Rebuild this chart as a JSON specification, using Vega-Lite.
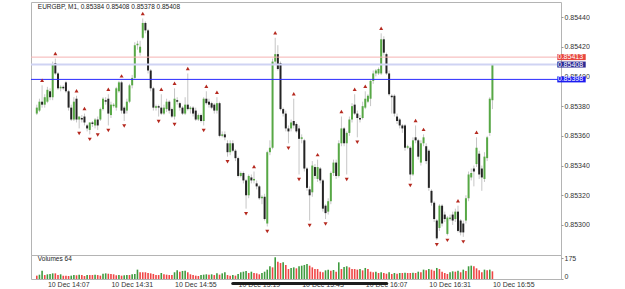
{
"$schema":"https://vega.github.io/schema/vega-lite/v6.json",
"padding":{"left":29,"top":1,"right":0,"bottom":0},
"spacing":0,
"bounds":"flush",
"config":{"font":"Liberation Sans","view":{"stroke":"#b4b4b4","strokeWidth":1},
"axis":{"labelFont":"Liberation Sans","labelFontSize":7,"labelColor":"#333","tickColor":"#999","domain":false,"grid":false,"title":null,"labelOverlap":false}},
"datasets":{
"levels":[{"name":"ask","p":0.85413},{"name":"bid","p":0.85408},{"name":"line","p":0.85398}],
"candles":[
{"t":"2024-12-10T14:03:00Z","o":0.85375,"h":0.85381,"l":0.85374,"c":0.85379,"v":28,"vd":"dn","f":""},
{"t":"2024-12-10T14:04:00Z","o":0.85377,"h":0.85385,"l":0.85376,"c":0.85383,"v":36,"vd":"up","f":""},
{"t":"2024-12-10T14:05:00Z","o":0.85383,"h":0.85394,"l":0.85379,"c":0.85381,"v":69,"vd":"up","f":"u"},
{"t":"2024-12-10T14:06:00Z","o":0.85381,"h":0.85388,"l":0.85379,"c":0.85386,"v":33,"vd":"dn","f":""},
{"t":"2024-12-10T14:07:00Z","o":0.85383,"h":0.85393,"l":0.85382,"c":0.85391,"v":39,"vd":"up","f":""},
{"t":"2024-12-10T14:08:00Z","o":0.85390,"h":0.85392,"l":0.85384,"c":0.85386,"v":42,"vd":"up","f":""},
{"t":"2024-12-10T14:09:00Z","o":0.85386,"h":0.85410,"l":0.85384,"c":0.85408,"v":47,"vd":"up","f":""},
{"t":"2024-12-10T14:10:00Z","o":0.85409,"h":0.85412,"l":0.85401,"c":0.85402,"v":47,"vd":"dn","f":"u"},
{"t":"2024-12-10T14:11:00Z","o":0.85402,"h":0.85403,"l":0.85391,"c":0.85392,"v":33,"vd":"dn","f":""},
{"t":"2024-12-10T14:12:00Z","o":0.85392,"h":0.85394,"l":0.85390,"c":0.85393,"v":39,"vd":"up","f":""},
{"t":"2024-12-10T14:13:00Z","o":0.85393,"h":0.85394,"l":0.85391,"c":0.85392,"v":28,"vd":"dn","f":""},
{"t":"2024-12-10T14:14:00Z","o":0.85396,"h":0.85397,"l":0.85389,"c":0.85390,"v":28,"vd":"dn","f":""},
{"t":"2024-12-10T14:15:00Z","o":0.85390,"h":0.85391,"l":0.85377,"c":0.85379,"v":25,"vd":"dn","f":""},
{"t":"2024-12-10T14:16:00Z","o":0.85379,"h":0.85381,"l":0.85370,"c":0.85371,"v":28,"vd":"up","f":""},
{"t":"2024-12-10T14:17:00Z","o":0.85371,"h":0.85386,"l":0.85370,"c":0.85383,"v":33,"vd":"up","f":""},
{"t":"2024-12-10T14:18:00Z","o":0.85385,"h":0.85387,"l":0.85369,"c":0.85371,"v":31,"vd":"dn","f":"u"},
{"t":"2024-12-10T14:19:00Z","o":0.85371,"h":0.85373,"l":0.85365,"c":0.85373,"v":36,"vd":"up","f":"d"},
{"t":"2024-12-10T14:20:00Z","o":0.85372,"h":0.85374,"l":0.85369,"c":0.85371,"v":33,"vd":"dn","f":""},
{"t":"2024-12-10T14:21:00Z","o":0.85373,"h":0.85375,"l":0.85367,"c":0.85369,"v":25,"vd":"dn","f":"u"},
{"t":"2024-12-10T14:22:00Z","o":0.85367,"h":0.85368,"l":0.85363,"c":0.85365,"v":33,"vd":"up","f":""},
{"t":"2024-12-10T14:23:00Z","o":0.85364,"h":0.85369,"l":0.85361,"c":0.85369,"v":33,"vd":"dn","f":"d"},
{"t":"2024-12-10T14:24:00Z","o":0.85369,"h":0.85370,"l":0.85366,"c":0.85368,"v":33,"vd":"dn","f":""},
{"t":"2024-12-10T14:25:00Z","o":0.85367,"h":0.85372,"l":0.85365,"c":0.85371,"v":36,"vd":"up","f":""},
{"t":"2024-12-10T14:26:00Z","o":0.85371,"h":0.85373,"l":0.85364,"c":0.85367,"v":33,"vd":"dn","f":"d"},
{"t":"2024-12-10T14:27:00Z","o":0.85371,"h":0.85379,"l":0.85370,"c":0.85378,"v":28,"vd":"dn","f":""},
{"t":"2024-12-10T14:28:00Z","o":0.85378,"h":0.85386,"l":0.85377,"c":0.85385,"v":44,"vd":"up","f":""},
{"t":"2024-12-10T14:29:00Z","o":0.85384,"h":0.85386,"l":0.85381,"c":0.85383,"v":47,"vd":"up","f":""},
{"t":"2024-12-10T14:30:00Z","o":0.85385,"h":0.85388,"l":0.85367,"c":0.85375,"v":44,"vd":"dn","f":"ud"},
{"t":"2024-12-10T14:31:00Z","o":0.85374,"h":0.85383,"l":0.85372,"c":0.85381,"v":42,"vd":"dn","f":""},
{"t":"2024-12-10T14:32:00Z","o":0.85380,"h":0.85382,"l":0.85379,"c":0.85381,"v":39,"vd":"dn","f":""},
{"t":"2024-12-10T14:33:00Z","o":0.85379,"h":0.85393,"l":0.85377,"c":0.85392,"v":31,"vd":"dn","f":""},
{"t":"2024-12-10T14:34:00Z","o":0.85390,"h":0.85397,"l":0.85389,"c":0.85396,"v":33,"vd":"up","f":""},
{"t":"2024-12-10T14:35:00Z","o":0.85396,"h":0.85397,"l":0.85375,"c":0.85377,"v":28,"vd":"dn","f":"u"},
{"t":"2024-12-10T14:36:00Z","o":0.85379,"h":0.85380,"l":0.85370,"c":0.85375,"v":31,"vd":"up","f":"d"},
{"t":"2024-12-10T14:37:00Z","o":0.85377,"h":0.85385,"l":0.85375,"c":0.85383,"v":33,"vd":"up","f":""},
{"t":"2024-12-10T14:38:00Z","o":0.85383,"h":0.85395,"l":0.85382,"c":0.85394,"v":33,"vd":"dn","f":""},
{"t":"2024-12-10T14:39:00Z","o":0.85394,"h":0.85401,"l":0.85392,"c":0.85399,"v":39,"vd":"up","f":""},
{"t":"2024-12-10T14:40:00Z","o":0.85399,"h":0.85423,"l":0.85398,"c":0.85421,"v":42,"vd":"up","f":""},
{"t":"2024-12-10T14:41:00Z","o":0.85421,"h":0.85424,"l":0.85418,"c":0.85422,"v":78,"vd":"up","f":""},
{"t":"2024-12-10T14:42:00Z","o":0.85416,"h":0.85424,"l":0.85414,"c":0.85420,"v":56,"vd":"dn","f":""},
{"t":"2024-12-10T14:43:00Z","o":0.85426,"h":0.85439,"l":0.85425,"c":0.85436,"v":56,"vd":"dn","f":"u"},
{"t":"2024-12-10T14:44:00Z","o":0.85436,"h":0.85437,"l":0.85429,"c":0.85431,"v":56,"vd":"dn","f":""},
{"t":"2024-12-10T14:45:00Z","o":0.85431,"h":0.85432,"l":0.85402,"c":0.85404,"v":50,"vd":"dn","f":""},
{"t":"2024-12-10T14:46:00Z","o":0.85404,"h":0.85405,"l":0.85390,"c":0.85392,"v":47,"vd":"dn","f":""},
{"t":"2024-12-10T14:47:00Z","o":0.85392,"h":0.85393,"l":0.85377,"c":0.85379,"v":42,"vd":"dn","f":""},
{"t":"2024-12-10T14:48:00Z","o":0.85379,"h":0.85381,"l":0.85377,"c":0.85380,"v":33,"vd":"dn","f":""},
{"t":"2024-12-10T14:49:00Z","o":0.85380,"h":0.85381,"l":0.85373,"c":0.85379,"v":33,"vd":"dn","f":"d"},
{"t":"2024-12-10T14:50:00Z","o":0.85379,"h":0.85388,"l":0.85374,"c":0.85375,"v":50,"vd":"up","f":"u"},
{"t":"2024-12-10T14:51:00Z","o":0.85375,"h":0.85381,"l":0.85374,"c":0.85379,"v":39,"vd":"dn","f":""},
{"t":"2024-12-10T14:52:00Z","o":0.85378,"h":0.85385,"l":0.85376,"c":0.85383,"v":36,"vd":"dn","f":""},
{"t":"2024-12-10T14:53:00Z","o":0.85383,"h":0.85384,"l":0.85375,"c":0.85377,"v":33,"vd":"dn","f":""},
{"t":"2024-12-10T14:54:00Z","o":0.85378,"h":0.85379,"l":0.85372,"c":0.85373,"v":33,"vd":"dn","f":""},
{"t":"2024-12-10T14:55:00Z","o":0.85373,"h":0.85392,"l":0.85371,"c":0.85385,"v":56,"vd":"up","f":"ud"},
{"t":"2024-12-10T14:56:00Z","o":0.85384,"h":0.85386,"l":0.85381,"c":0.85383,"v":72,"vd":"up","f":""},
{"t":"2024-12-10T14:57:00Z","o":0.85382,"h":0.85383,"l":0.85377,"c":0.85379,"v":61,"vd":"dn","f":""},
{"t":"2024-12-10T14:58:00Z","o":0.85379,"h":0.85380,"l":0.85374,"c":0.85375,"v":67,"vd":"up","f":""},
{"t":"2024-12-10T14:59:00Z","o":0.85375,"h":0.85386,"l":0.85374,"c":0.85381,"v":69,"vd":"up","f":""},
{"t":"2024-12-10T15:00:00Z","o":0.85381,"h":0.85402,"l":0.85377,"c":0.85378,"v":56,"vd":"dn","f":"u"},
{"t":"2024-12-10T15:01:00Z","o":0.85378,"h":0.85380,"l":0.85375,"c":0.85379,"v":39,"vd":"dn","f":""},
{"t":"2024-12-10T15:02:00Z","o":0.85379,"h":0.85380,"l":0.85373,"c":0.85375,"v":33,"vd":"dn","f":""},
{"t":"2024-12-10T15:03:00Z","o":0.85377,"h":0.85379,"l":0.85370,"c":0.85371,"v":28,"vd":"dn","f":""},
{"t":"2024-12-10T15:04:00Z","o":0.85371,"h":0.85375,"l":0.85370,"c":0.85374,"v":25,"vd":"dn","f":""},
{"t":"2024-12-10T15:05:00Z","o":0.85374,"h":0.85375,"l":0.85369,"c":0.85370,"v":33,"vd":"up","f":""},
{"t":"2024-12-10T15:06:00Z","o":0.85370,"h":0.85386,"l":0.85367,"c":0.85385,"v":36,"vd":"up","f":"d"},
{"t":"2024-12-10T15:07:00Z","o":0.85385,"h":0.85390,"l":0.85381,"c":0.85382,"v":39,"vd":"up","f":"u"},
{"t":"2024-12-10T15:08:00Z","o":0.85383,"h":0.85385,"l":0.85379,"c":0.85381,"v":36,"vd":"dn","f":""},
{"t":"2024-12-10T15:09:00Z","o":0.85382,"h":0.85383,"l":0.85378,"c":0.85379,"v":39,"vd":"up","f":""},
{"t":"2024-12-10T15:10:00Z","o":0.85381,"h":0.85382,"l":0.85375,"c":0.85377,"v":33,"vd":"dn","f":""},
{"t":"2024-12-10T15:11:00Z","o":0.85377,"h":0.85386,"l":0.85375,"c":0.85382,"v":47,"vd":"up","f":"u"},
{"t":"2024-12-10T15:12:00Z","o":0.85382,"h":0.85383,"l":0.85359,"c":0.85360,"v":36,"vd":"dn","f":""},
{"t":"2024-12-10T15:13:00Z","o":0.85360,"h":0.85363,"l":0.85359,"c":0.85361,"v":47,"vd":"up","f":""},
{"t":"2024-12-10T15:14:00Z","o":0.85361,"h":0.85363,"l":0.85357,"c":0.85359,"v":56,"vd":"up","f":""},
{"t":"2024-12-10T15:15:00Z","o":0.85355,"h":0.85357,"l":0.85346,"c":0.85349,"v":33,"vd":"dn","f":"d"},
{"t":"2024-12-10T15:16:00Z","o":0.85349,"h":0.85357,"l":0.85347,"c":0.85355,"v":28,"vd":"dn","f":""},
{"t":"2024-12-10T15:17:00Z","o":0.85355,"h":0.85357,"l":0.85349,"c":0.85350,"v":33,"vd":"up","f":""},
{"t":"2024-12-10T15:18:00Z","o":0.85350,"h":0.85351,"l":0.85343,"c":0.85345,"v":28,"vd":"dn","f":""},
{"t":"2024-12-10T15:19:00Z","o":0.85345,"h":0.85346,"l":0.85332,"c":0.85333,"v":42,"vd":"up","f":""},
{"t":"2024-12-10T15:20:00Z","o":0.85333,"h":0.85336,"l":0.85332,"c":0.85335,"v":56,"vd":"up","f":""},
{"t":"2024-12-10T15:21:00Z","o":0.85335,"h":0.85336,"l":0.85328,"c":0.85330,"v":61,"vd":"up","f":""},
{"t":"2024-12-10T15:22:00Z","o":0.85330,"h":0.85331,"l":0.85311,"c":0.85320,"v":67,"vd":"up","f":"d"},
{"t":"2024-12-10T15:23:00Z","o":0.85320,"h":0.85334,"l":0.85318,"c":0.85333,"v":50,"vd":"dn","f":""},
{"t":"2024-12-10T15:24:00Z","o":0.85332,"h":0.85334,"l":0.85328,"c":0.85330,"v":61,"vd":"up","f":""},
{"t":"2024-12-10T15:25:00Z","o":0.85330,"h":0.85336,"l":0.85328,"c":0.85331,"v":50,"vd":"dn","f":"u"},
{"t":"2024-12-10T15:26:00Z","o":0.85328,"h":0.85330,"l":0.85324,"c":0.85326,"v":47,"vd":"dn","f":""},
{"t":"2024-12-10T15:27:00Z","o":0.85326,"h":0.85327,"l":0.85317,"c":0.85318,"v":39,"vd":"dn","f":""},
{"t":"2024-12-10T15:28:00Z","o":0.85318,"h":0.85320,"l":0.85314,"c":0.85319,"v":50,"vd":"up","f":""},
{"t":"2024-12-10T15:29:00Z","o":0.85319,"h":0.85321,"l":0.85303,"c":0.85304,"v":61,"vd":"up","f":""},
{"t":"2024-12-10T15:30:00Z","o":0.85301,"h":0.85350,"l":0.85299,"c":0.85349,"v":78,"vd":"up","f":"d"},
{"t":"2024-12-10T15:31:00Z","o":0.85349,"h":0.85357,"l":0.85347,"c":0.85352,"v":106,"vd":"up","f":""},
{"t":"2024-12-10T15:32:00Z","o":0.85352,"h":0.85412,"l":0.85351,"c":0.85410,"v":97,"vd":"dn","f":""},
{"t":"2024-12-10T15:33:00Z","o":0.85410,"h":0.85426,"l":0.85408,"c":0.85415,"v":181,"vd":"up","f":"u"},
{"t":"2024-12-10T15:34:00Z","o":0.85415,"h":0.85421,"l":0.85404,"c":0.85405,"v":144,"vd":"dn","f":""},
{"t":"2024-12-10T15:35:00Z","o":0.85409,"h":0.85410,"l":0.85377,"c":0.85378,"v":133,"vd":"dn","f":""},
{"t":"2024-12-10T15:36:00Z","o":0.85378,"h":0.85379,"l":0.85373,"c":0.85375,"v":139,"vd":"up","f":""},
{"t":"2024-12-10T15:37:00Z","o":0.85375,"h":0.85377,"l":0.85363,"c":0.85365,"v":117,"vd":"dn","f":""},
{"t":"2024-12-10T15:38:00Z","o":0.85365,"h":0.85367,"l":0.85355,"c":0.85363,"v":83,"vd":"dn","f":"d"},
{"t":"2024-12-10T15:39:00Z","o":0.85365,"h":0.85371,"l":0.85363,"c":0.85369,"v":92,"vd":"up","f":""},
{"t":"2024-12-10T15:40:00Z","o":0.85370,"h":0.85385,"l":0.85365,"c":0.85367,"v":97,"vd":"up","f":"u"},
{"t":"2024-12-10T15:41:00Z","o":0.85368,"h":0.85369,"l":0.85362,"c":0.85363,"v":89,"vd":"dn","f":""},
{"t":"2024-12-10T15:42:00Z","o":0.85365,"h":0.85367,"l":0.85334,"c":0.85358,"v":106,"vd":"up","f":"d"},
{"t":"2024-12-10T15:43:00Z","o":0.85358,"h":0.85361,"l":0.85355,"c":0.85359,"v":111,"vd":"up","f":""},
{"t":"2024-12-10T15:44:00Z","o":0.85357,"h":0.85358,"l":0.85336,"c":0.85338,"v":117,"vd":"up","f":""},
{"t":"2024-12-10T15:45:00Z","o":0.85338,"h":0.85339,"l":0.85323,"c":0.85325,"v":125,"vd":"up","f":""},
{"t":"2024-12-10T15:46:00Z","o":0.85324,"h":0.85326,"l":0.85303,"c":0.85320,"v":111,"vd":"dn","f":"d"},
{"t":"2024-12-10T15:47:00Z","o":0.85322,"h":0.85343,"l":0.85319,"c":0.85340,"v":97,"vd":"dn","f":""},
{"t":"2024-12-10T15:48:00Z","o":0.85339,"h":0.85341,"l":0.85331,"c":0.85333,"v":83,"vd":"dn","f":""},
{"t":"2024-12-10T15:49:00Z","o":0.85331,"h":0.85344,"l":0.85329,"c":0.85339,"v":83,"vd":"dn","f":"u"},
{"t":"2024-12-10T15:50:00Z","o":0.85338,"h":0.85339,"l":0.85328,"c":0.85330,"v":61,"vd":"dn","f":""},
{"t":"2024-12-10T15:51:00Z","o":0.85330,"h":0.85331,"l":0.85309,"c":0.85311,"v":56,"vd":"dn","f":""},
{"t":"2024-12-10T15:52:00Z","o":0.85313,"h":0.85314,"l":0.85304,"c":0.85308,"v":72,"vd":"up","f":"d"},
{"t":"2024-12-10T15:53:00Z","o":0.85309,"h":0.85318,"l":0.85307,"c":0.85316,"v":78,"vd":"up","f":""},
{"t":"2024-12-10T15:54:00Z","o":0.85316,"h":0.85336,"l":0.85314,"c":0.85335,"v":69,"vd":"dn","f":""},
{"t":"2024-12-10T15:55:00Z","o":0.85335,"h":0.85344,"l":0.85333,"c":0.85342,"v":75,"vd":"up","f":""},
{"t":"2024-12-10T15:56:00Z","o":0.85342,"h":0.85344,"l":0.85331,"c":0.85333,"v":61,"vd":"dn","f":""},
{"t":"2024-12-10T15:57:00Z","o":0.85333,"h":0.85357,"l":0.85332,"c":0.85355,"v":139,"vd":"up","f":""},
{"t":"2024-12-10T15:58:00Z","o":0.85355,"h":0.85373,"l":0.85353,"c":0.85365,"v":83,"vd":"dn","f":"u"},
{"t":"2024-12-10T15:59:00Z","o":0.85365,"h":0.85366,"l":0.85353,"c":0.85355,"v":100,"vd":"up","f":""},
{"t":"2024-12-10T16:00:00Z","o":0.85355,"h":0.85363,"l":0.85334,"c":0.85362,"v":106,"vd":"up","f":"d"},
{"t":"2024-12-10T16:01:00Z","o":0.85362,"h":0.85373,"l":0.85360,"c":0.85371,"v":97,"vd":"dn","f":""},
{"t":"2024-12-10T16:02:00Z","o":0.85371,"h":0.85382,"l":0.85369,"c":0.85380,"v":83,"vd":"dn","f":""},
{"t":"2024-12-10T16:03:00Z","o":0.85381,"h":0.85388,"l":0.85374,"c":0.85375,"v":83,"vd":"dn","f":"u"},
{"t":"2024-12-10T16:04:00Z","o":0.85375,"h":0.85377,"l":0.85359,"c":0.85372,"v":78,"vd":"dn","f":"d"},
{"t":"2024-12-10T16:05:00Z","o":0.85372,"h":0.85374,"l":0.85369,"c":0.85371,"v":83,"vd":"up","f":""},
{"t":"2024-12-10T16:06:00Z","o":0.85372,"h":0.85383,"l":0.85371,"c":0.85380,"v":72,"vd":"dn","f":""},
{"t":"2024-12-10T16:07:00Z","o":0.85379,"h":0.85390,"l":0.85378,"c":0.85385,"v":92,"vd":"up","f":"u"},
{"t":"2024-12-10T16:08:00Z","o":0.85383,"h":0.85388,"l":0.85382,"c":0.85387,"v":83,"vd":"dn","f":""},
{"t":"2024-12-10T16:09:00Z","o":0.85385,"h":0.85398,"l":0.85380,"c":0.85397,"v":61,"vd":"dn","f":""},
{"t":"2024-12-10T16:10:00Z","o":0.85397,"h":0.85404,"l":0.85395,"c":0.85402,"v":56,"vd":"dn","f":""},
{"t":"2024-12-10T16:11:00Z","o":0.85402,"h":0.85405,"l":0.85400,"c":0.85404,"v":61,"vd":"up","f":""},
{"t":"2024-12-10T16:12:00Z","o":0.85402,"h":0.85406,"l":0.85401,"c":0.85405,"v":50,"vd":"dn","f":""},
{"t":"2024-12-10T16:13:00Z","o":0.85402,"h":0.85429,"l":0.85401,"c":0.85425,"v":56,"vd":"up","f":"u"},
{"t":"2024-12-10T16:14:00Z","o":0.85425,"h":0.85427,"l":0.85414,"c":0.85416,"v":50,"vd":"dn","f":""},
{"t":"2024-12-10T16:15:00Z","o":0.85415,"h":0.85416,"l":0.85401,"c":0.85402,"v":44,"vd":"dn","f":""},
{"t":"2024-12-10T16:16:00Z","o":0.85402,"h":0.85404,"l":0.85387,"c":0.85388,"v":56,"vd":"up","f":""},
{"t":"2024-12-10T16:17:00Z","o":0.85387,"h":0.85388,"l":0.85375,"c":0.85386,"v":42,"vd":"dn","f":""},
{"t":"2024-12-10T16:18:00Z","o":0.85387,"h":0.85388,"l":0.85373,"c":0.85375,"v":50,"vd":"up","f":""},
{"t":"2024-12-10T16:19:00Z","o":0.85373,"h":0.85375,"l":0.85368,"c":0.85370,"v":44,"vd":"dn","f":""},
{"t":"2024-12-10T16:20:00Z","o":0.85371,"h":0.85372,"l":0.85365,"c":0.85367,"v":50,"vd":"up","f":""},
{"t":"2024-12-10T16:21:00Z","o":0.85367,"h":0.85368,"l":0.85362,"c":0.85365,"v":50,"vd":"dn","f":""},
{"t":"2024-12-10T16:22:00Z","o":0.85367,"h":0.85368,"l":0.85350,"c":0.85352,"v":53,"vd":"up","f":""},
{"t":"2024-12-10T16:23:00Z","o":0.85352,"h":0.85354,"l":0.85351,"c":0.85353,"v":50,"vd":"dn","f":""},
{"t":"2024-12-10T16:24:00Z","o":0.85352,"h":0.85353,"l":0.85330,"c":0.85334,"v":50,"vd":"dn","f":"d"},
{"t":"2024-12-10T16:25:00Z","o":0.85334,"h":0.85359,"l":0.85333,"c":0.85357,"v":53,"vd":"up","f":""},
{"t":"2024-12-10T16:26:00Z","o":0.85359,"h":0.85367,"l":0.85355,"c":0.85357,"v":50,"vd":"dn","f":"u"},
{"t":"2024-12-10T16:27:00Z","o":0.85357,"h":0.85358,"l":0.85344,"c":0.85346,"v":61,"vd":"up","f":""},
{"t":"2024-12-10T16:28:00Z","o":0.85342,"h":0.85357,"l":0.85340,"c":0.85355,"v":56,"vd":"dn","f":""},
{"t":"2024-12-10T16:29:00Z","o":0.85355,"h":0.85361,"l":0.85353,"c":0.85359,"v":78,"vd":"up","f":"u"},
{"t":"2024-12-10T16:30:00Z","o":0.85353,"h":0.85355,"l":0.85341,"c":0.85343,"v":72,"vd":"dn","f":""},
{"t":"2024-12-10T16:31:00Z","o":0.85350,"h":0.85351,"l":0.85323,"c":0.85325,"v":83,"vd":"up","f":""},
{"t":"2024-12-10T16:32:00Z","o":0.85323,"h":0.85324,"l":0.85313,"c":0.85315,"v":78,"vd":"dn","f":""},
{"t":"2024-12-10T16:33:00Z","o":0.85315,"h":0.85316,"l":0.85302,"c":0.85304,"v":69,"vd":"dn","f":""},
{"t":"2024-12-10T16:34:00Z","o":0.85303,"h":0.85304,"l":0.85290,"c":0.85291,"v":92,"vd":"up","f":"d"},
{"t":"2024-12-10T16:35:00Z","o":0.85298,"h":0.85314,"l":0.85296,"c":0.85313,"v":83,"vd":"dn","f":""},
{"t":"2024-12-10T16:36:00Z","o":0.85313,"h":0.85314,"l":0.85299,"c":0.85301,"v":61,"vd":"dn","f":""},
{"t":"2024-12-10T16:37:00Z","o":0.85307,"h":0.85309,"l":0.85302,"c":0.85304,"v":50,"vd":"dn","f":""},
{"t":"2024-12-10T16:38:00Z","o":0.85294,"h":0.85306,"l":0.85293,"c":0.85305,"v":42,"vd":"dn","f":"d"},
{"t":"2024-12-10T16:39:00Z","o":0.85304,"h":0.85307,"l":0.85303,"c":0.85305,"v":56,"vd":"up","f":""},
{"t":"2024-12-10T16:40:00Z","o":0.85307,"h":0.85309,"l":0.85300,"c":0.85303,"v":64,"vd":"up","f":""},
{"t":"2024-12-10T16:41:00Z","o":0.85304,"h":0.85311,"l":0.85302,"c":0.85309,"v":61,"vd":"dn","f":""},
{"t":"2024-12-10T16:42:00Z","o":0.85309,"h":0.85313,"l":0.85295,"c":0.85296,"v":69,"vd":"up","f":"u"},
{"t":"2024-12-10T16:43:00Z","o":0.85303,"h":0.85304,"l":0.85293,"c":0.85295,"v":56,"vd":"dn","f":""},
{"t":"2024-12-10T16:44:00Z","o":0.85301,"h":0.85303,"l":0.85292,"c":0.85295,"v":78,"vd":"up","f":"d"},
{"t":"2024-12-10T16:45:00Z","o":0.85303,"h":0.85320,"l":0.85301,"c":0.85318,"v":67,"vd":"dn","f":""},
{"t":"2024-12-10T16:46:00Z","o":0.85318,"h":0.85336,"l":0.85316,"c":0.85334,"v":106,"vd":"up","f":""},
{"t":"2024-12-10T16:47:00Z","o":0.85332,"h":0.85338,"l":0.85330,"c":0.85335,"v":111,"vd":"up","f":""},
{"t":"2024-12-10T16:48:00Z","o":0.85338,"h":0.85340,"l":0.85326,"c":0.85336,"v":106,"vd":"dn","f":""},
{"t":"2024-12-10T16:49:00Z","o":0.85341,"h":0.85359,"l":0.85339,"c":0.85352,"v":89,"vd":"dn","f":"u"},
{"t":"2024-12-10T16:50:00Z","o":0.85348,"h":0.85350,"l":0.85331,"c":0.85334,"v":72,"vd":"dn","f":""},
{"t":"2024-12-10T16:51:00Z","o":0.85338,"h":0.85340,"l":0.85323,"c":0.85332,"v":56,"vd":"dn","f":""},
{"t":"2024-12-10T16:52:00Z","o":0.85331,"h":0.85349,"l":0.85329,"c":0.85346,"v":78,"vd":"up","f":""},
{"t":"2024-12-10T16:53:00Z","o":0.85345,"h":0.85360,"l":0.85343,"c":0.85359,"v":72,"vd":"dn","f":""},
{"t":"2024-12-10T16:54:00Z","o":0.85362,"h":0.85386,"l":0.85360,"c":0.85385,"v":78,"vd":"up","f":""},
{"t":"2024-12-10T16:55:00Z","o":0.85384,"h":0.85408,"l":0.85378,"c":0.85408,"v":64,"vd":"dn","f":""}
]},
"vconcat":[
{"width":530,"height":253,"data":{"name":"candles"},
"layer":[
{"mark":{"type":"rule","color":"#c6c6c6","strokeWidth":1},
"encoding":{"x":{"field":"t","type":"temporal","scale":{"type":"utc","domain":[{"year":2024,"month":12,"date":10,"hours":14,"minutes":2,"seconds":42,"utc":true},{"year":2024,"month":12,"date":10,"hours":17,"minutes":19,"seconds":0,"utc":true}]},"axis":null},
"y":{"field":"l","type":"quantitative","scale":{"domain":[0.852798,0.854501],"nice":false,"zero":false},"axis":{"orient":"right","values":[0.853,0.8532,0.8534,0.8536,0.8538,0.854,0.8542,0.8544],"tickCount":20,"format":".5f","tickSize":2,"labelPadding":1,"labelOverlap":false,"labelBound":false}},
"y2":{"field":"h"}}},
{"mark":{"type":"bar","width":2},
"encoding":{"x":{"field":"t","type":"temporal","axis":null},"y":{"field":"o","type":"quantitative"},"y2":{"field":"c"},
"color":{"condition":{"test":"datum.c >= datum.o","value":"#57a845"},"value":"#242424"}}},
{"data":{"name":"levels"},"mark":{"type":"rule"},
"encoding":{"y":{"field":"p","type":"quantitative"},
"color":{"condition":[{"test":"datum.name=='ask'","value":"#f5b3b3"},{"test":"datum.name=='bid'","value":"#cfd3f3"}],"value":"#2a2aff"},
"strokeWidth":{"condition":{"test":"datum.name=='bid'","value":2},"value":1}}},
{"data":{"name":"levels"},"mark":{"type":"rule","strokeWidth":6,"strokeCap":"butt"},
"encoding":{"x":{"datum":{"year":2024,"month":12,"date":10,"hours":17,"minutes":19,"seconds":29,"utc":true},"type":"temporal","axis":null},
"x2":{"datum":{"year":2024,"month":12,"date":10,"hours":17,"minutes":30,"seconds":13,"utc":true}},
"y":{"field":"p","type":"quantitative"},
"color":{"condition":[{"test":"datum.name=='ask'","value":"#e8473f"},{"test":"datum.name=='bid'","value":"#2c2c96"}],"value":"#1c1cf0"}}},
{"data":{"name":"levels"},"mark":{"type":"text","align":"left","baseline":"middle","color":"#ffffff","fontSize":7},
"encoding":{"x":{"datum":{"year":2024,"month":12,"date":10,"hours":17,"minutes":19,"seconds":40,"utc":true},"type":"temporal","axis":null},
"y":{"field":"p","type":"quantitative"},"text":{"field":"p","type":"quantitative","format":".5f"}}},
{"transform":[{"filter":"indexof(datum.f,'u')>=0"}],
"mark":{"type":"point","shape":"triangle-up","filled":true,"size":16,"color":"#b5291f","opacity":1,"yOffset":-5},
"encoding":{"x":{"field":"t","type":"temporal","axis":null},"y":{"field":"h","type":"quantitative"}}},
{"transform":[{"filter":"indexof(datum.f,'d')>=0"}],
"mark":{"type":"point","shape":"triangle-down","filled":true,"size":16,"color":"#b5291f","opacity":1,"yOffset":5},
"encoding":{"x":{"field":"t","type":"temporal","axis":null},"y":{"field":"l","type":"quantitative"}}},
{"data":{"values":[{}]},"mark":{"type":"text","text":"EURGBP, M1, 0.85384 0.85408 0.85378 0.85408","align":"left","baseline":"middle","fontSize":6.5,"color":"#222222","dx":1},
"encoding":{"x":{"datum":{"year":2024,"month":12,"date":10,"hours":14,"minutes":3,"utc":true},"type":"temporal","axis":null},"y":{"datum":0.854467,"type":"quantitative"}}}
]},
{"width":530,"height":24,"data":{"name":"candles"},
"layer":[
{"mark":{"type":"bar","width":1.6},
"encoding":{"x":{"field":"t","type":"temporal","scale":{"type":"utc","domain":[{"year":2024,"month":12,"date":10,"hours":14,"minutes":2,"seconds":42,"utc":true},{"year":2024,"month":12,"date":10,"hours":17,"minutes":19,"seconds":0,"utc":true}]},
"axis":{"orient":"bottom","values":[{"year":2024,"month":12,"date":10,"hours":14,"minutes":7,"utc":true},{"year":2024,"month":12,"date":10,"hours":14,"minutes":31,"utc":true},{"year":2024,"month":12,"date":10,"hours":14,"minutes":55,"utc":true},{"year":2024,"month":12,"date":10,"hours":15,"minutes":19,"utc":true},{"year":2024,"month":12,"date":10,"hours":15,"minutes":43,"utc":true},{"year":2024,"month":12,"date":10,"hours":16,"minutes":7,"utc":true},{"year":2024,"month":12,"date":10,"hours":16,"minutes":31,"utc":true},{"year":2024,"month":12,"date":10,"hours":16,"minutes":55,"utc":true}],
"tickCount":20,"format":"%d %b %H:%M","labelAlign":"left","labelFlush":false,"labelOverlap":false,"ticks":false,"labelPadding":1,"labelDx":-1}},
"y":{"field":"v","type":"quantitative","scale":{"domain":[0,200],"nice":false},
"axis":{"orient":"right","values":[0,175],"tickCount":5,"tickSize":2,"labelPadding":1,"labelOverlap":false,"labelBaseline":{"condition":{"test":"datum.value==0","value":"bottom"},"value":"middle"}}},
"color":{"condition":{"test":"datum.vd=='up'","value":"#3f9b3f"},"value":"#ef4545"}}},
{"data":{"values":[{}]},"mark":{"type":"text","text":"Volumes 64","align":"left","baseline":"middle","fontSize":6.5,"color":"#222222","dx":1},
"encoding":{"x":{"datum":{"year":2024,"month":12,"date":10,"hours":14,"minutes":3,"utc":true},"type":"temporal"},"y":{"datum":169,"type":"quantitative"}}},
{"data":{"values":[{}]},"mark":{"type":"rule","color":"#1c1c1c","strokeWidth":3,"strokeCap":"round"},
"encoding":{"x":{"datum":{"year":2024,"month":12,"date":10,"hours":15,"minutes":16,"seconds":58,"utc":true},"type":"temporal"},
"x2":{"datum":{"year":2024,"month":12,"date":10,"hours":16,"minutes":15,"seconds":6,"utc":true}},
"y":{"datum":-37,"type":"quantitative"}}}
]}
]
}
